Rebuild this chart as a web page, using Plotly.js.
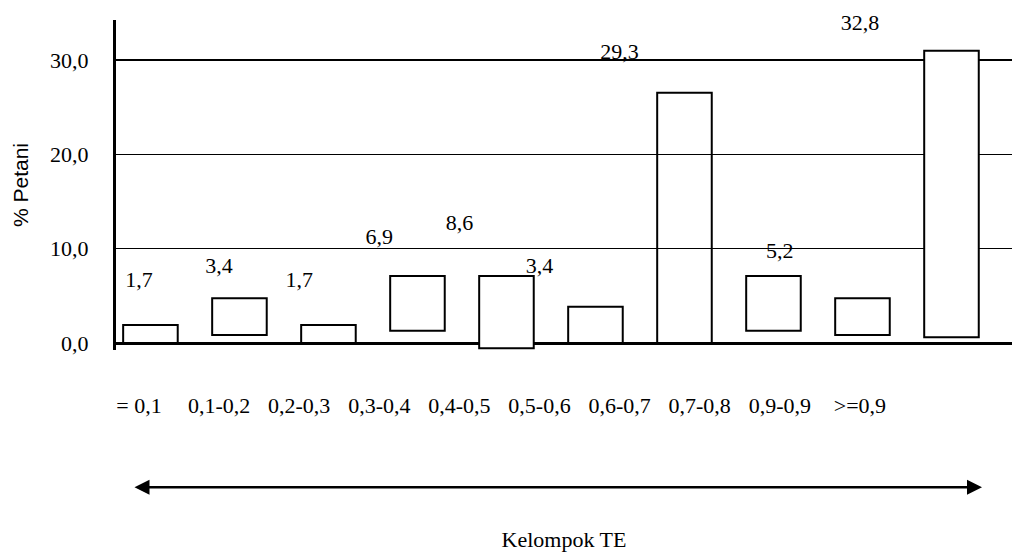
<!DOCTYPE html>
<html><head><meta charset="utf-8">
<script src="https://cdn.plot.ly/plotly-3.0.1.min.js"></script>
<style>html,body{margin:0;padding:0;background:#fff}#chart{width:1012px;height:554px}</style>
</head><body><div id="chart"></div>
<script>
// Kelompok TE categories (as printed)
const categories = ["= 0,1","0,1-0,2","0,2-0,3","0,3-0,4","0,4-0,5","0,5-0,6","0,6-0,7","0,7-0,8","0,9-0,9",">=0,9"];
// boxes as drawn in the picture: bottom and top edge, in "% Petani" axis units
const barBottom = [0, 0.85, 0, 1.30, -0.56, 0, 0, 1.30, 0.85, 0.60];
const barTop    = [1.91, 4.74, 1.91, 7.10, 7.10, 3.85, 26.54, 7.10, 4.74, 30.99];
// printed value labels (% Petani); no label printed for 0,7-0,8
const labelValues = [1.7, 3.4, 1.7, 6.9, 8.6, 3.4, 29.3, null, 5.2, 32.8];
// y axis ticks
const yTicks = [0, 10, 20, 30];

const barFill = categories.map((c, i) => i === 6 ? 'rgba(0,0,0,0)' : '#ffffff');
const serif = '"Liberation Serif", "Times New Roman", serif';
const sans = '"Liberation Sans", Arial, sans-serif';

const bars = {
  type: 'bar', x: categories,
  y: barTop.map((t, i) => t - barBottom[i]),
  base: barBottom,
  width: 0.613,
  marker: {color: barFill, line: {color: '#000', width: 2}},
  hoverinfo: 'skip', xaxis: 'x', yaxis: 'y'
};
const labels = {
  type: 'scatter', mode: 'text', x: categories, y: labelValues,
  text: labelValues.map(v => v == null ? '' : v.toFixed(1).replace('.', ',')),
  textposition: 'middle center',
  textfont: {family: serif, size: 22, color: '#000'},
  cliponaxis: false, hoverinfo: 'skip', xaxis: 'x2', yaxis: 'y2'
};

const layout = {
  width: 1012, height: 554,
  margin: {l: 116, r: 0, t: 20, b: 204},
  paper_bgcolor: '#fff', plot_bgcolor: '#fff',
  showlegend: false, separators: ',.',
  font: {family: serif, size: 22, color: '#000'},
  xaxis: {type: 'category', range: [-0.387, 9.68], showgrid: false, showline: false,
          zeroline: false, showticklabels: false, ticks: '', fixedrange: true},
  xaxis2: {type: 'category', overlaying: 'x', anchor: 'y2', side: 'bottom',
           range: [-0.287, 10.899], showgrid: false, showline: false, zeroline: false,
           ticks: '', tickmode: 'array', tickvals: categories, ticktext: categories,
           tickfont: {family: serif, size: 22, color: '#000'}, ticklabelstandoff: 40,
           automargin: true,
           title: {text: 'Kelompok TE', font: {family: serif, size: 22, color: '#000'}, standoff: 114}},
  yaxis: {range: [-0.742, 34.24], tickmode: 'array', tickvals: yTicks, tickformat: '.1f',
          showgrid: true, gridcolor: '#000', gridwidth: 1.6,
          zeroline: true, zerolinecolor: '#000', zerolinewidth: 3,
          showline: true, linecolor: '#000', linewidth: 3, ticks: '',
          tickfont: {family: serif, size: 22, color: '#000'}, ticklabelstandoff: 20,
          automargin: true,
          title: {text: '% Petani', font: {family: sans, size: 21, color: '#000'}, standoff: 16}},
  yaxis2: {overlaying: 'y', anchor: 'x2', range: [-6.58, 33.39], visible: false},
  annotations: [{
    xref: 'paper', yref: 'paper', x: (982 - 116) / 896, y: (350 - 487.3) / 330,
    axref: 'pixel', ayref: 'pixel', ax: -(982 - 133), ay: 0,
    text: '', showarrow: true, arrowside: 'end+start',
    arrowhead: 2, startarrowhead: 2, arrowsize: 1.2, startarrowsize: 1.2,
    arrowwidth: 2.5, arrowcolor: '#000', standoff: 0, startstandoff: 0
  }]
};

Plotly.newPlot('chart', [bars, labels], layout, {displayModeBar: false, staticPlot: true});
</script>
</body></html>
